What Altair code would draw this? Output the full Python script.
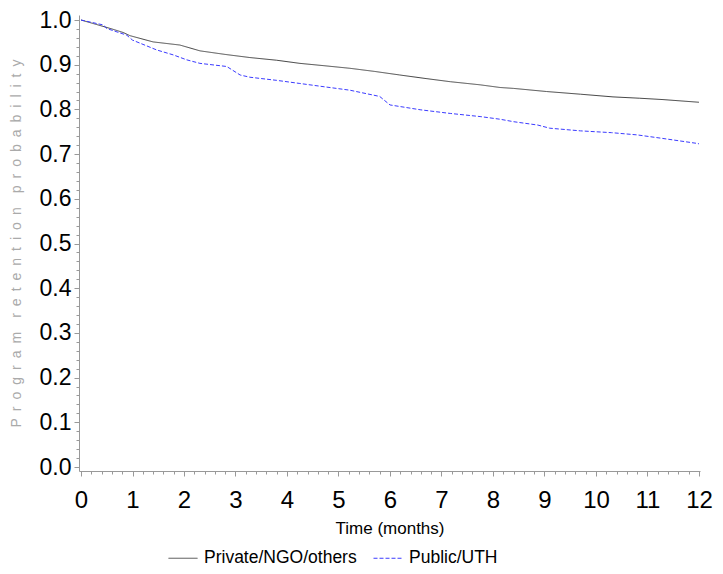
import altair as alt
import pandas as pd

# Kaplan-Meier style retention curves
priv_t = [0, 0.3, 0.6, 0.82, 0.95, 1.4, 1.92, 2.31, 2.8, 3.28, 3.8, 4.25, 4.7, 5.22, 5.7,
          6.19, 6.7, 7.17, 7.75, 8.14, 8.4, 9.04, 9.7, 10.33, 10.85, 11.3, 12]
priv_s = [1.0, 0.99, 0.98, 0.972, 0.965, 0.951, 0.944, 0.931, 0.923, 0.916, 0.91, 0.903,
          0.898, 0.892, 0.885, 0.877, 0.869, 0.862, 0.855, 0.849, 0.847, 0.84, 0.834,
          0.828, 0.825, 0.822, 0.816]
pub_t = [0, 0.43, 0.5, 0.89, 1.0, 1.15, 1.47, 1.79, 2.05, 2.31, 2.83, 3.09, 3.28, 3.8,
         4.25, 4.7, 5.22, 5.8, 6.0, 6.6, 7.17, 7.75, 8.14, 8.4, 8.87, 9.1, 9.7, 10.3,
         10.8, 11.3, 11.96, 12]
pub_s = [1.0, 0.989, 0.981, 0.966, 0.955, 0.948, 0.933, 0.922, 0.911, 0.903, 0.896,
         0.877, 0.872, 0.865, 0.858, 0.851, 0.843, 0.829, 0.81, 0.799, 0.791, 0.784,
         0.778, 0.7725, 0.765, 0.758, 0.752, 0.748, 0.743, 0.735, 0.724, 0.723]
groups = ["Private/NGO/others", "Public/UTH"]
x_major = list(range(0, 13))
y_major = [round(i * 0.1, 1) for i in range(11)]
x_minor = [round(i * 0.2, 1) for i in range(61) if i % 5 != 0]
y_minor = [round(i * 0.02, 2) for i in range(51) if i % 5 != 0]

df = pd.concat([
    pd.DataFrame({"t": priv_t, "s": priv_s, "g": groups[0]}),
    pd.DataFrame({"t": pub_t, "s": pub_s, "g": groups[1]}),
])

sp = "\u2002"
ytitle = (sp * 2).join(sp.join(list(w)) for w in ["Program", "retention", "probability"])

xscale = alt.Scale(domain=[-0.039, 12.02], nice=False, zero=False)
yscale = alt.Scale(domain=[-0.0089, 1.0112], nice=False, zero=False)
FONT = "Liberation Sans"

base = alt.Chart(df)

main = base.mark_line(strokeWidth=1).encode(
    x=alt.X("t:Q", scale=xscale, axis=alt.Axis(
        orient="bottom", values=x_major, format="d", title="Time (months)",
        labelFont=FONT, labelFontSize=24, labelColor="black", labelPadding=12,
        tickSize=5, tickColor="#999", domainColor="#999", grid=False,
        titleFont=FONT, titleFontSize=17, titleColor="black", titleFontWeight="normal",
        titlePadding=8, labelFlush=False)),
    y=alt.Y("s:Q", scale=yscale, axis=alt.Axis(
        orient="left", values=y_major, format=".1f", title=ytitle,
        labelFont=FONT, labelFontSize=23, labelColor="black", labelPadding=3,
        tickSize=5, tickColor="#999", domainColor="#999", grid=False,
        titleFont=FONT, titleFontSize=14, titleColor="#aaaaaa", titleFontWeight="normal",
        titleX=-63, titleY=228, titleAngle=-90, titleAlign="center", titleBaseline="middle",
        labelFlush=False)),
    color=alt.Color("g:N", scale=alt.Scale(domain=groups, range=["#444444", "#3b3bff"]),
                    legend=alt.Legend(
                        orient="none", legendX=89, legendY=528, direction="horizontal",
                        title=None, symbolType="stroke", symbolSize=841,
                        symbolStrokeWidth=1, labelFont=FONT, labelFontSize=17.5,
                        labelColor="black", labelOffset=6, columnPadding=14, padding=0)),
    strokeDash=alt.StrokeDash("g:N", scale=alt.Scale(domain=groups, range=[[1, 0], [4, 2]]),
                              legend=None),
)

minor = base.mark_line(opacity=0).encode(
    x=alt.X("t:Q", scale=xscale, axis=alt.Axis(
        orient="bottom", values=x_minor, labels=False, title=None, tickSize=3,
        tickColor="#999", domain=False, grid=False)),
    y=alt.Y("s:Q", scale=yscale, axis=alt.Axis(
        orient="left", values=y_minor, labels=False, title=None, tickSize=3,
        tickColor="#999", domain=False, grid=False)),
)

chart = alt.layer(main, minor).resolve_axis(x="independent", y="independent").properties(
    width=621, height=456,
    autosize=alt.AutoSizeParams(type="none"),
    padding={"left": 71, "top": 7, "right": 15, "bottom": 95},
).configure_view(stroke=None)

chart.save("out.html", embed_options={"renderer": "svg", "actions": False})
